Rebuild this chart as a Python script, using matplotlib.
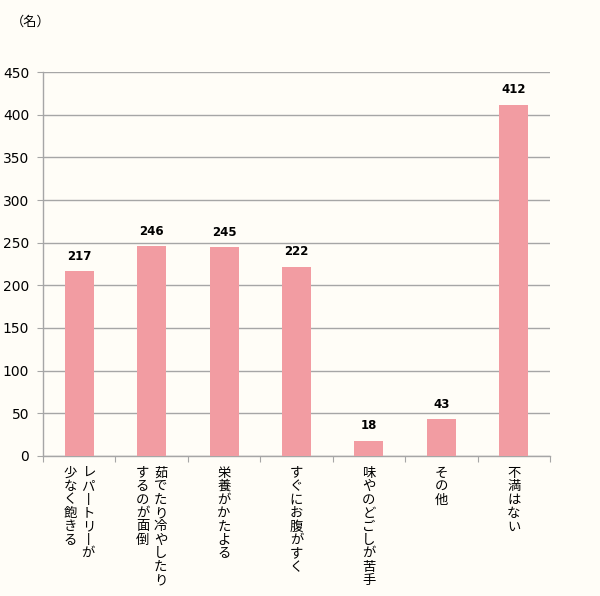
import matplotlib
matplotlib.use("Agg")
import matplotlib.pyplot as plt
from matplotlib.transforms import blended_transform_factory, offset_copy

plt.rcParams['font.family'] = ['Noto Sans CJK JP', 'DejaVu Sans']

# データ
categories = [
    ["レパートリーが", "少なく飽きる"],
    ["茹でたり冷やしたり", "するのが面倒"],
    ["栄養がかたよる"],
    ["すぐにお腹がすく"],
    ["味やのどごしが苦手"],
    ["その他"],
    ["不満はない"],
]
values = [217, 246, 245, 222, 18, 43, 412]
yticks = [0, 50, 100, 150, 200, 250, 300, 350, 400, 450]

bg = "#fffdf7"
bar_color = "#f29ca2"
line_color = "#a6a6a6"

fig = plt.figure(figsize=(6, 5.96), dpi=100, facecolor=bg)
ax = fig.add_axes([0.0717, 0.235, 0.845, 0.644])
ax.set_facecolor(bg)

x = list(range(len(values)))
ax.bar(x, values, width=0.4, color=bar_color, zorder=3)

for xi, v in zip(x, values):
    ax.annotate(str(v), (xi, v), xytext=(0, 6), textcoords="offset points",
                ha="center", va="bottom", fontsize=8.5, fontweight="bold",
                family="DejaVu Sans")

ax.set_xlim(-0.5, len(values) - 0.5)
ax.set_ylim(0, 450)
ax.set_yticks(yticks)
ax.set_yticklabels([str(t) for t in yticks], fontsize=10, family="DejaVu Sans")
ax.yaxis.grid(True, color=line_color, linewidth=1.0, zorder=0)
ax.tick_params(axis="y", length=4, color=line_color, pad=6)

# x軸の目盛は区切り位置に
ax.set_xticks([i - 0.5 for i in range(len(values) + 1)])
ax.set_xticklabels([])
ax.tick_params(axis="x", length=4, color=line_color)

for s in ["top", "right"]:
    ax.spines[s].set_visible(False)
for s in ["left", "bottom"]:
    ax.spines[s].set_color(line_color)
    ax.spines[s].set_linewidth(1.0)

# 縦書きラベル
trans = blended_transform_factory(ax.transData, ax.transAxes)
for xi, cols in zip(x, categories):
    n = len(cols)
    for j, col in enumerate(cols):
        dx = 6.5 if (n > 1 and j == 0) else (-6.5 if n > 1 else 0)
        t = offset_copy(trans, fig=fig, x=dx, y=-7, units="points")
        txt = "\n".join("丨" if c == "ー" else c for c in col)
        ax.text(xi, 0, txt, transform=t, ha="center", va="top",
                fontsize=9.6, linespacing=0.95)

fig.text(0.018, 0.962, "（名）", fontsize=9.5, ha="left", va="center")

fig.savefig("out.png", dpi=100, facecolor=bg)
